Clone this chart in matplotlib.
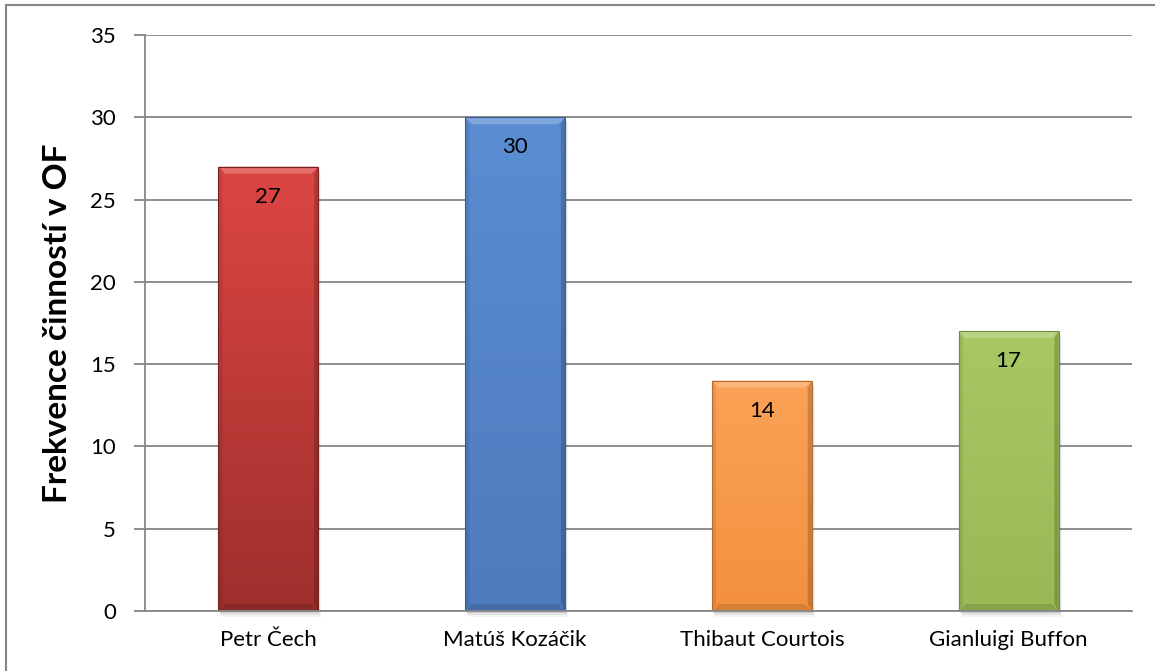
import matplotlib
matplotlib.use("Agg")
import matplotlib.pyplot as plt
import numpy as np
from matplotlib.colors import LinearSegmentedColormap, to_rgb
from matplotlib.patches import Polygon, Rectangle
from matplotlib.lines import Line2D

# Data
players = ["Petr Čech", "Matúš Kozáčik", "Thibaut Courtois", "Gianluigi Buffon"]
frequencies = [27, 30, 14, 17]
y_ticks = [0, 5, 10, 15, 20, 25, 30, 35]
y_label = "Frekvence činností v OF"

# Bar colour pairs (top, bottom)
bar_top = ["#DC4643", "#5B8DD2", "#FBA256", "#A7C863"]
bar_bottom = ["#9E2F2D", "#4D7BBD", "#F39040", "#98B955"]

plt.rcParams["font.family"] = ["Lato", "DejaVu Sans"]

W, H, DPI = 1155, 671, 100
fig = plt.figure(figsize=(W / DPI, H / DPI), dpi=DPI)

ax_l, ax_r, ax_t, ax_b = 145, 1132, 35, 611
ax = fig.add_axes([ax_l / W, 1 - ax_b / H, (ax_r - ax_l) / W, (ax_b - ax_t) / H])

x = np.arange(len(players))
bar_w = 0.405
bars = ax.bar(x, frequencies, width=bar_w, color="none", zorder=3)

ax.set_xlim(-0.5, len(players) - 0.5)
ax.set_ylim(0, 35)
ax.set_yticks(y_ticks)
ax.set_xticks(x)
ax.set_xticklabels(players, fontsize=16)
ax.tick_params(axis="x", length=0, pad=14)
ax.tick_params(axis="y", length=8, width=1.3, color="#868686", pad=13, labelsize=16)

grid_c = "#868686"
ax.yaxis.grid(True, color=grid_c, linewidth=1.3, zorder=0)
ax.set_axisbelow(True)
for s in ["top", "right"]:
    ax.spines[s].set_visible(False)
ax.spines["left"].set_color(grid_c)
ax.spines["left"].set_linewidth(1.3)
ax.spines["bottom"].set_color(grid_c)
ax.spines["bottom"].set_linewidth(1.3)
ax.spines["bottom"].set_zorder(5)

ax.set_ylabel(y_label, fontsize=24, fontweight="bold", labelpad=13)

# Bevel sizes in data units (about 7 px)
px_x = (len(players)) / (ax_r - ax_l)
px_y = 35 / (ax_b - ax_t)
bx, by = 7 * px_x, 7 * px_y


def mix(c, other, t):
    c = np.array(to_rgb(c))
    o = np.array(to_rgb(other))
    return tuple(c * (1 - t) + o * t)


for i, b in enumerate(bars):
    x0, w, h = b.get_x(), b.get_width(), b.get_height()
    cmap = LinearSegmentedColormap.from_list("g", [bar_bottom[i], bar_top[i]])
    grad = np.linspace(0, 1, 256).reshape(-1, 1)
    # soft shadow under the bar
    for k, a in enumerate([0.10, 0.07, 0.04]):
        ax.add_patch(Rectangle((x0 + (1 + k) * px_x, -(2 + 2 * k) * px_y), w, h,
                               facecolor="black", alpha=a, edgecolor="none",
                               zorder=2, clip_on=False))
    im = ax.imshow(grad, extent=[x0, x0 + w, 0, h], origin="lower", cmap=cmap,
                   aspect="auto", zorder=3, interpolation="bilinear")
    rect = Rectangle((x0, 0), w, h, transform=ax.transData, facecolor="none")
    im.set_clip_path(rect)
    topc = bar_top[i]
    botc = bar_bottom[i]
    # bevel facets
    ax.add_patch(Polygon([(x0, h), (x0 + w, h), (x0 + w - bx, h - by), (x0 + bx, h - by)],
                         closed=True, facecolor=mix(topc, "white", 0.22), edgecolor="none", zorder=4))
    ax.add_patch(Polygon([(x0, 0), (x0 + w, 0), (x0 + w - bx, by), (x0 + bx, by)],
                         closed=True, facecolor=mix(botc, "black", 0.12), edgecolor="none", zorder=4))
    ax.add_patch(Polygon([(x0, 0), (x0 + bx * 0.6, by), (x0 + bx * 0.6, h - by), (x0, h)],
                         closed=True, facecolor="black", alpha=0.08, edgecolor="none", zorder=4))
    ax.add_patch(Polygon([(x0 + w, 0), (x0 + w - bx * 0.6, by), (x0 + w - bx * 0.6, h - by), (x0 + w, h)],
                         closed=True, facecolor="black", alpha=0.18, edgecolor="none", zorder=4))
    ax.add_patch(Rectangle((x0, 0), w, h, facecolor="none",
                           edgecolor=mix(botc, "black", 0.25), linewidth=0.8, zorder=4))
    ax.annotate(str(frequencies[i]), (x0 + w / 2, h), xytext=(0, -30),
                textcoords="offset pixels", ha="center", va="center",
                fontsize=16, color="black", zorder=6)

# Chart area frame
fig.add_artist(Line2D([6 / W, 6 / W], [0, 1 - 5 / H], color=grid_c, linewidth=1.5,
                      transform=fig.transFigure))
fig.add_artist(Line2D([6 / W, 1], [1 - 5 / H, 1 - 5 / H], color=grid_c, linewidth=1.5,
                      transform=fig.transFigure))

fig.savefig("out.png", dpi=DPI)
